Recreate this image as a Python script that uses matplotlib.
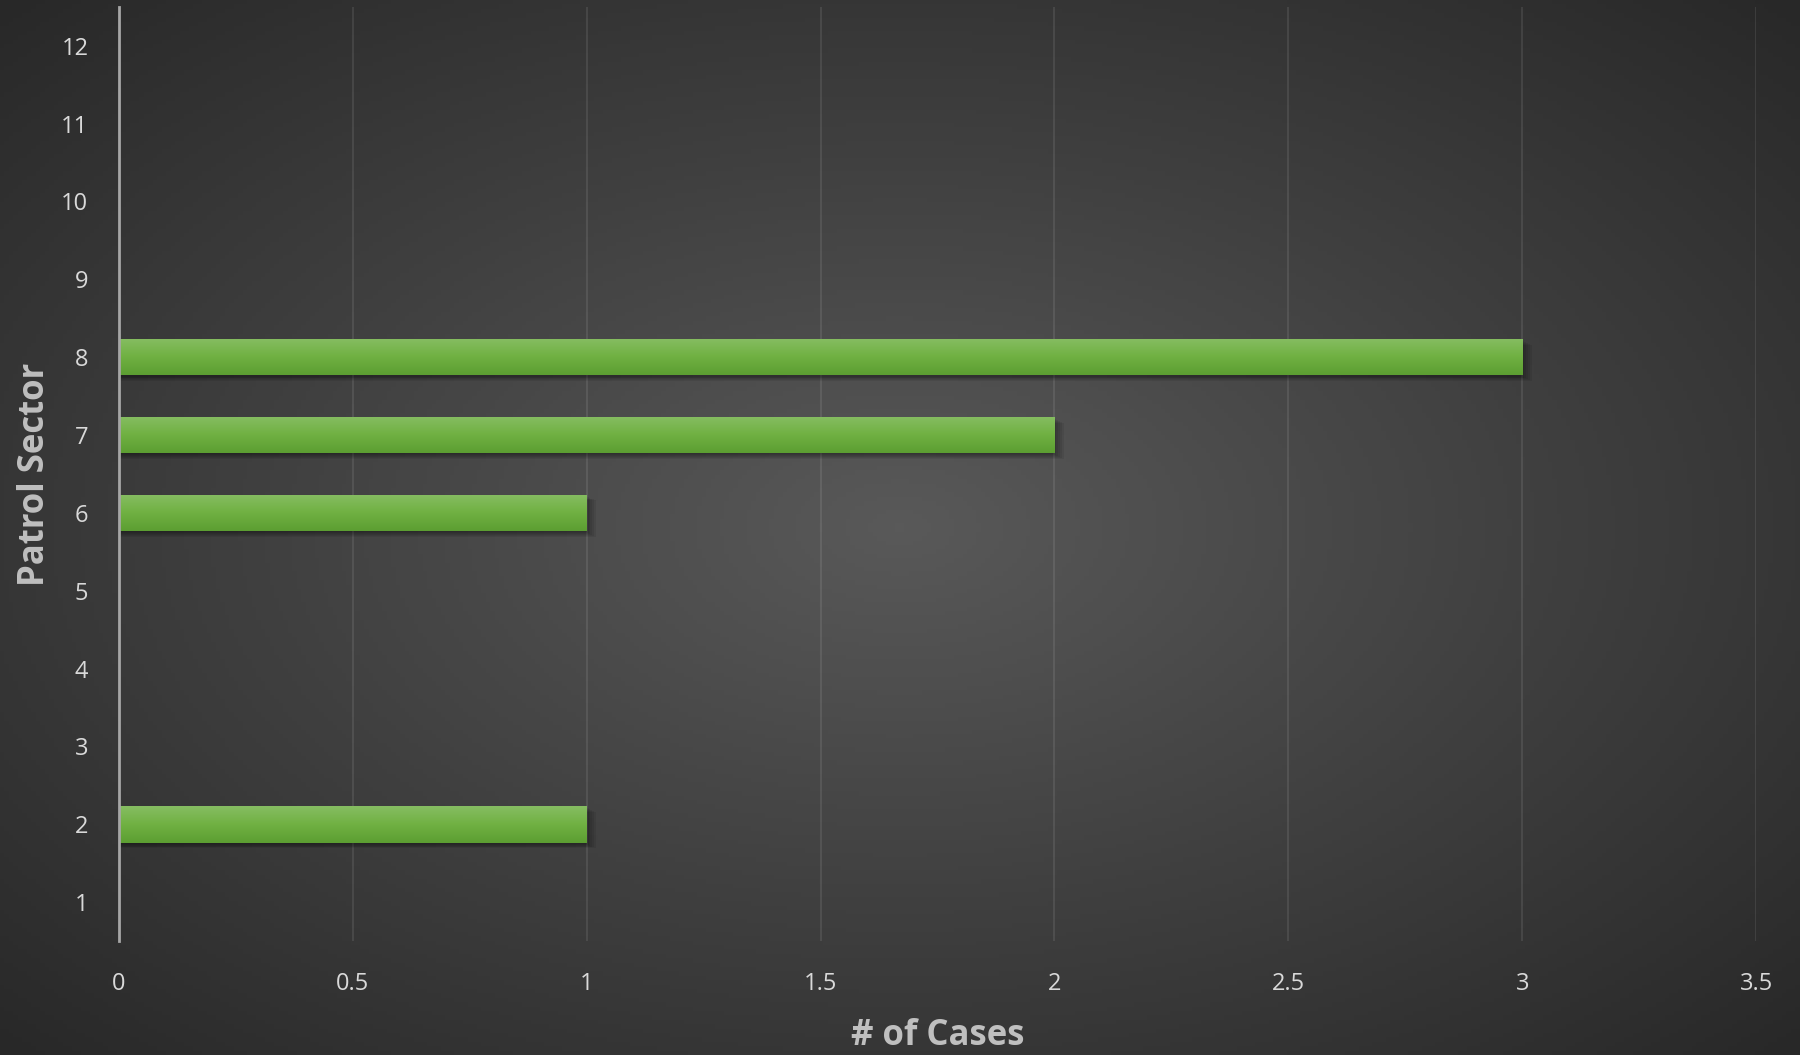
import numpy as np
import matplotlib.pyplot as plt
from matplotlib.colors import LinearSegmentedColormap

# data #
sectors = [1, 2, 3, 4, 5, 6, 7, 8, 9, 10, 11, 12]
cases = [0, 1, 0, 0, 0, 1, 2, 3, 0, 0, 0, 0]
x_ticks = [0, 0.5, 1, 1.5, 2, 2.5, 3, 3.5]
x_labels = ['0', '0.5', '1', '1.5', '2', '2.5', '3', '3.5']

plt.rcParams['font.family'] = ['Open Sans', 'DejaVu Sans']

fig = plt.figure(figsize=(18, 10.55), dpi=100)

# radial background #
bg = fig.add_axes([0, 0, 1, 1], zorder=-10)
gx, gy = np.meshgrid(np.linspace(-1, 1, 400), np.linspace(-1, 1, 240))
r = np.sqrt(gx**2 + gy**2) / np.sqrt(2)
bg_cmap = LinearSegmentedColormap.from_list('bg', ['#595959', '#404040', '#282828'])
bg.imshow(r, cmap=bg_cmap, aspect='auto', extent=[0, 1, 0, 1], vmin=0, vmax=1)
bg.axis('off')

ax = fig.add_axes([0.0661, 0.108, 0.9095, 0.8856])
ax.set_facecolor('none')

bar_h = 0.47
# soft shadows #
for k in range(6):
    off = 0.015 + 0.012 * k
    for s, c in zip(sectors, cases):
        if c > 0:
            ax.barh(s - off, c + 0.004 * k, height=bar_h, left=0, color='black',
                    alpha=0.07, zorder=2, linewidth=0)
bars = ax.barh(sectors, cases, height=bar_h, color='#70b142', zorder=3, linewidth=0)

grad = np.linspace(0, 1, 100).reshape(-1, 1)
bar_cmap = LinearSegmentedColormap.from_list('bar', ['#5c9e32', '#70b142', '#86bd62'])
for p in bars.patches:
    if p.get_width() <= 0:
        continue
    x0, y0 = p.get_x(), p.get_y()
    im = ax.imshow(grad, cmap=bar_cmap, aspect='auto', origin='lower',
                   extent=[x0, x0 + p.get_width(), y0, y0 + p.get_height()],
                   zorder=4)
    im.set_clip_path(p)

ax.set_xlim(0, 3.5)
ax.set_ylim(0.5, 12.5)
ax.set_xticks(x_ticks)
ax.set_xticklabels(x_labels)
ax.set_yticks(sectors)
ax.set_yticklabels([str(s) for s in sectors])

ax.grid(axis='x', color='white', alpha=0.09, linewidth=1.5, zorder=1)
ax.set_axisbelow(True)
for side in ['top', 'right', 'bottom']:
    ax.spines[side].set_visible(False)
ax.spines['left'].set_color('#a6a6a6')
ax.spines['left'].set_linewidth(2)
ax.spines['left'].set_zorder(5)

ax.tick_params(axis='both', length=0, colors='#d9d9d9', labelsize=17)
ax.tick_params(axis='x', pad=22)
ax.tick_params(axis='y', pad=22)

ax.set_xlabel('# of Cases', color='#bfbfbf', fontsize=25, fontweight='bold',
              labelpad=16)
ax.set_ylabel('Patrol Sector', color='#bfbfbf', fontsize=25, fontweight='bold',
              labelpad=6)

fig.savefig('out.png', dpi=100)
